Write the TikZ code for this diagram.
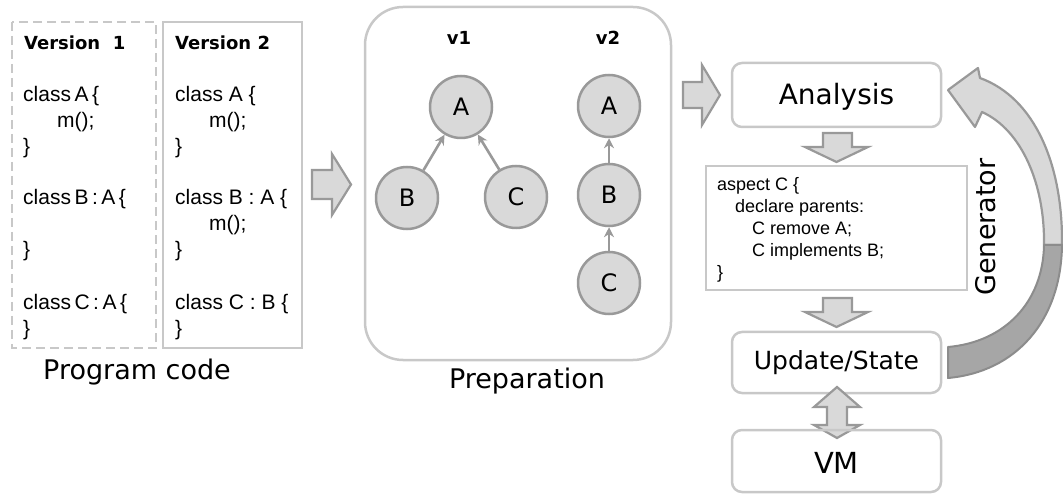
\documentclass[tikz,border=0pt]{standalone}
\usepackage{fontspec}
\setmainfont{DejaVu Sans}
\newfontfamily\codefont{Liberation Sans}
\usetikzlibrary{arrows.meta}
\definecolor{boxline}{HTML}{C8C8C8}
\definecolor{shapeline}{HTML}{999999}
\definecolor{shapefill}{HTML}{D9D9D9}
\definecolor{darkfill}{HTML}{A6A6A6}
\definecolor{darkline}{HTML}{8C8C8C}
\tikzset{
  frame/.style={draw=boxline, line width=2.5pt},
  blockarrow/.style={draw=shapeline, fill=shapefill, line width=2.2pt, line join=miter},
  cls/.style={circle, draw=shapeline, fill=shapefill, line width=2.5pt, minimum size=62pt, inner sep=0pt, font=\fontsize{24}{28}\selectfont},
  inh/.style={draw=shapeline, line width=2.6pt, -{Stealth[length=10pt,width=10pt]}, shorten >=0pt},
  code/.style={anchor=base west, inner sep=0pt, font=\codefont\fontsize{21}{24}\selectfont},
  acode/.style={anchor=base west, inner sep=0pt, font=\codefont\fontsize{18}{21}\selectfont},
  head/.style={inner sep=0pt, font=\bfseries\fontsize{18}{21}\selectfont},
  lbl/.style={inner sep=0pt, font=\fontsize{27}{30}\selectfont},
}
\newcommand{\nsp}{\kern3.5pt}
\begin{document}
\begin{tikzpicture}[x=1pt,y=-1pt]
\useasboundingbox (0,0) rectangle (1063,494);

% Program code boxes
\draw[frame, dash pattern=on 9pt off 5pt] (12,22) rectangle (156,348);
\draw[frame] (163,22) rectangle (302,348);
\node[head, anchor=west] (h1) at (24,43) {Version\ \ 1};
\node[head, anchor=west] (h2) at (175,43) {Version 2};

\begin{scope}[every node/.append style={code}]
\node (a1) at (23,102) {class\nsp A\nsp\{};
\node (a2) at (57,128) {m();};
\node (a3) at (23,154) {\}};
\node (a4) at (23,205) {class\nsp B\nsp:\nsp A\nsp\{};
\node (a5) at (23,257) {\}};
\node (a6) at (23,309) {class\nsp C\nsp:\nsp A\nsp\{};
\node (a7) at (23,335) {\}};
\node (b1) at (175,102) {class A \{};
\node (b2) at (209,128) {m();};
\node (b3) at (175,154) {\}};
\node (b4) at (175,205) {class B : A \{};
\node (b5) at (209,231) {m();};
\node (b6) at (175,257) {\}};
\node (b7) at (175,309) {class C : B \{};
\node (b8) at (175,335) {\}};
\end{scope}
\node[lbl] (pc) at (137,372) {Program code};

% arrow 1
\draw[blockarrow] (312,170) -- (332,170) -- (332,154) -- (351,184.5) -- (332,215) -- (332,199) -- (312,199) -- cycle;

% Preparation
\draw[frame, rounded corners=38pt] (365,7) rectangle (671,360);
\node[head] (v1) at (459,38) {v1};
\node[head] (v2) at (608,38) {v2};
\node[cls] (A1) at (461,107) {A};
\node[cls] (B1) at (407,198) {B};
\node[cls] (C1) at (516,197) {C};
\node[cls] (A2) at (609,106) {A};
\node[cls] (B2) at (609,195) {B};
\node[cls] (C2) at (609,283) {C};
\draw[inh] (B1) -- (A1);
\draw[inh] (C1) -- (A1);
\draw[inh] (B2) -- (A2);
\draw[inh] (C2) -- (B2);
\node[lbl] (prep) at (527,381) {Preparation};

% arrow 2
\draw[blockarrow] (683,82) -- (702,82) -- (702,65) -- (720,95) -- (702,125) -- (702,108) -- (683,108) -- cycle;

% right column
\draw[frame, rounded corners=10pt] (732,63) rectangle (941,127);
\node[lbl, font=\fontsize{28}{30}\selectfont] (an) at (836.5,97) {Analysis};

\draw[blockarrow] (823,133) -- (852,133) -- (852,147) -- (868,147) -- (836.5,162) -- (805,147) -- (823,147) -- cycle;

\draw[frame, line width=2.5pt] (706,166) rectangle (967,290);
\begin{scope}[every node/.append style={acode}]
\node (c1) at (717,191) {aspect C \{};
\node (c2) at (735,213) {declare parents:};
\node (c3) at (752,235) {C remove A;};
\node (c4) at (752,257) {C implements B;};
\node (c5) at (717,279) {\}};
\end{scope}

\draw[blockarrow] (823,298) -- (852,298) -- (852,312) -- (868,312) -- (836.5,327) -- (805,312) -- (823,312) -- cycle;

\draw[frame, rounded corners=10pt] (732,332) rectangle (941,393);
\node[lbl, font=\fontsize{25}{30}\selectfont] (us) at (836.5,363) {Update/State};

\draw[blockarrow] (837,387) -- (860,407) -- (847,407) -- (847,425) -- (860,425) -- (837,438) -- (814,425) -- (827,425) -- (827,407) -- (814,407) -- cycle;

\draw[frame, rounded corners=10pt] (732,430) rectangle (941,492);
\node[lbl, font=\fontsize{29}{30}\selectfont] (vm) at (836.5,463) {VM};

% Generator curved arrow
\draw[blockarrow, line join=round]
  (948,90) -- (978,68) -- (980,78)
  .. controls (1035,98) and (1063,165) .. (1062,245)
  -- (1044,245)
  .. controls (1045,185) and (1022,130) .. (982,112)
  -- (975,127) -- cycle;
\draw[draw=darkline, fill=darkfill, line width=2pt, line join=round]
  (1062,245) .. controls (1061,322) and (1015,372) .. (948,378)
  -- (948,347)
  .. controls (1005,342) and (1043,302) .. (1044,245) -- cycle;
\node[lbl, rotate=90, font=\fontsize{27}{30}\selectfont] (gen) at (986,227) {Generator};
\end{tikzpicture}
\end{document}
